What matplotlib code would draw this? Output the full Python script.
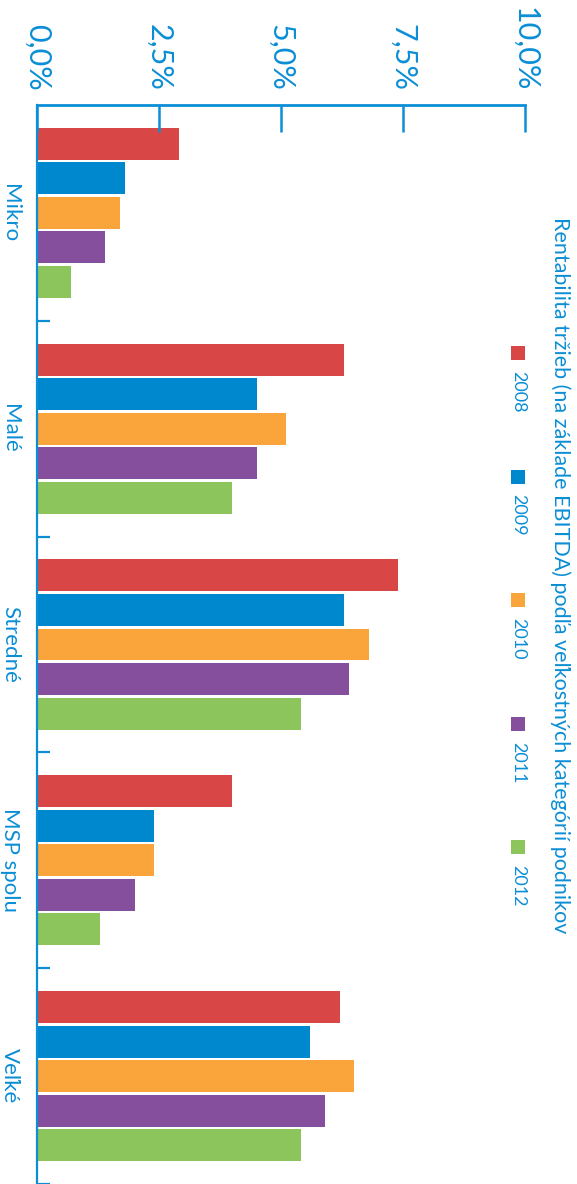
import numpy as np
import matplotlib
matplotlib.use("Agg")
import matplotlib.pyplot as plt
from matplotlib.patches import Rectangle

plt.rcParams['font.family'] = ['Lato', 'DejaVu Sans']

categories = ["Mikro", "Malé", "Stredné", "MSP spolu", "Veľké"]
years = ["2008", "2009", "2010", "2011", "2012"]
v2008 = [2.9, 6.3, 7.4, 4.0, 6.2]
v2009 = [1.8, 4.5, 6.3, 2.4, 5.6]
v2010 = [1.7, 5.1, 6.8, 2.4, 6.5]
v2011 = [1.4, 4.5, 6.4, 2.0, 5.9]
v2012 = [0.7, 4.0, 5.4, 1.3, 5.4]
tick_vals = [0, 2.5, 5, 7.5, 10]
tick_labels = ["0,0%", "2,5%", "5,0%", "7,5%", "10,0%"]
title = "Rentabilita tržieb (na základe EBITDA) podľa veľkostných kategórií podnikov"

colors = ["#D84646", "#0088CE", "#F9A53B", "#854F9E", "#8BC55B"]
blue = "#0B8ED6"

W, H = 577, 1184
fig = plt.figure(figsize=(W / 100, H / 100), dpi=100)
ax = fig.add_axes([37 / W, 0, (525 - 37) / W, (H - 105) / H])

series = [v2008, v2009, v2010, v2011, v2012]
y = np.arange(len(categories))
pitch = 0.16
for i, vals in enumerate(series):
    ax.barh(y + (i - 2) * pitch, vals, height=0.148, color=colors[i], linewidth=0)

ax.set_xlim(0, 10)
ax.set_ylim(len(categories) - 0.5, -0.5)

for s in ["right", "bottom"]:
    ax.spines[s].set_visible(False)
ax.spines["top"].set_color(blue)
ax.spines["top"].set_linewidth(2.0)
ax.spines["left"].set_color(blue)
ax.spines["left"].set_linewidth(1.6)

ax.xaxis.tick_top()
ax.set_xticks(tick_vals)
ax.set_xticklabels(tick_labels, rotation=-90, fontsize=22, color=blue)
ax.tick_params(axis="x", direction="in", length=19.5, width=1.8, color=blue, pad=10)

ax.set_yticks(y)
ax.set_yticklabels(categories, rotation=-90, fontsize=16, color=blue, va="center")
ax.tick_params(axis="y", which="major", length=0, pad=12)
ax.set_yticks(np.arange(0.5, len(categories), 1.0), minor=True)
ax.tick_params(axis="y", which="minor", direction="in", length=9, width=1.6, color=blue)

# legend, drawn rotated
for i, yr in enumerate(years):
    top = 346 + i * 123.5
    fig.patches.append(Rectangle((511 / W, 1 - (top + 14) / H), 14 / W, 14 / H,
                                 transform=fig.transFigure, color=colors[i], linewidth=0))
    fig.text(518 / W, 1 - (top + 25) / H, yr, rotation=-90, ha="center", va="top",
             fontsize=13, color=blue)

fig.text(560 / W, 1 - 217 / H, title, rotation=-90, ha="center", va="top",
         fontsize=15.5, color=blue)

fig.savefig("out.png", dpi=100)
